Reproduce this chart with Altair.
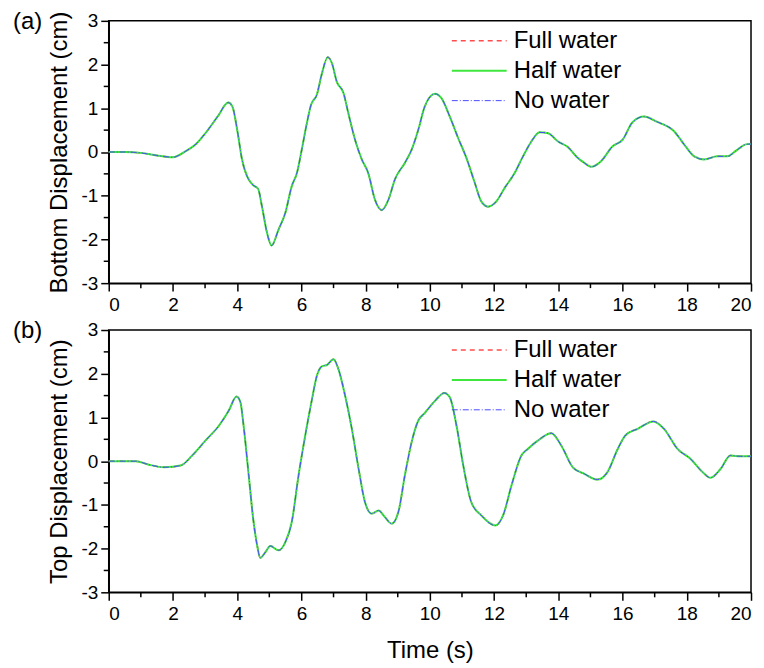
import altair as alt
import pandas as pd

# ---------------- data ----------------
series_names = ["Full water", "Half water", "No water"]

bottom_t = [0, 0.5, 1.0, 1.5, 2.0, 2.4, 2.7, 3.0, 3.4, 3.72, 3.85, 4.0, 4.15, 4.31,
            4.5, 4.65, 4.77, 4.93, 5.07, 5.29, 5.5, 5.7, 5.86, 6.01, 6.17, 6.3, 6.48,
            6.64, 6.82, 6.95, 7.1, 7.31, 7.46, 7.67, 7.88, 8.08, 8.29, 8.5, 8.71, 8.91,
            9.22, 9.43, 9.64, 9.84, 10.16, 10.36, 10.62, 10.88, 11.14, 11.4, 11.6, 11.81,
            12.07, 12.33, 12.64, 12.9, 13.16, 13.42, 13.68, 13.99, 14.3, 14.61, 14.81,
            15.02, 15.33, 15.69, 16.0, 16.31, 16.67, 17.04, 17.61, 17.92, 18.23, 18.54,
            18.95, 19.26, 19.57, 19.88, 20.0]
bottom_full = [0, 0, -0.02, -0.08, -0.12, 0.02, 0.17, 0.42, 0.82, 1.13, 1.04, 0.51, -0.17,
               -0.56, -0.76, -0.84, -1.24, -1.85, -2.14, -1.77, -1.39, -0.78, -0.48, 0.05,
               0.66, 1.08, 1.31, 1.8, 2.17, 2.03, 1.61, 1.35, 0.89, 0.28, -0.17, -0.48,
               -1.09, -1.33, -1.09, -0.63, -0.25, 0.05, 0.51, 1.04, 1.33, 1.23, 0.81, 0.32,
               -0.14, -0.71, -1.13, -1.25, -1.13, -0.82, -0.48, -0.1, 0.24, 0.45, 0.43,
               0.24, 0.11, -0.14, -0.25, -0.34, -0.21, 0.13, 0.28, 0.68, 0.81, 0.7, 0.47,
               0.17, -0.1, -0.17, -0.1, -0.1, 0.05, 0.18, 0.18]
bottom_half = list(bottom_full)
bottom_none = list(bottom_full)

top_t = [0, 0.84, 1.25, 1.72, 2.24, 2.6, 3.01, 3.43, 3.74, 3.98, 4.1, 4.2, 4.36, 4.51,
         4.62, 4.72, 4.88, 5.03, 5.29, 5.5, 5.7, 5.91, 6.12, 6.33, 6.48, 6.64, 6.79, 7.0,
         7.15, 7.36, 7.57, 7.78, 7.98, 8.19, 8.4, 8.6, 8.81, 9.02, 9.22, 9.43, 9.64, 9.84,
         10.16, 10.45, 10.62, 10.83, 11.04, 11.29, 11.6, 12.04, 12.28, 12.54, 12.85,
         13.05, 13.36, 13.78, 14.09, 14.45, 14.81, 15.22, 15.53, 15.85, 16.1, 16.47,
         16.96, 17.29, 17.71, 18.12, 18.49, 18.74, 19.05, 19.36, 19.67, 20.0]
top_full = [0, 0, -0.08, -0.14, -0.1, 0.13, 0.47, 0.81, 1.16, 1.48, 1.35, 0.81, -0.33,
            -1.39, -1.92, -2.21, -2.08, -1.94, -2.04, -1.85, -1.39, -0.33, 0.59, 1.42,
            1.95, 2.17, 2.2, 2.33, 2.11, 1.5, 0.74, -0.17, -0.94, -1.2, -1.13, -1.28,
            -1.43, -1.16, -0.33, 0.43, 0.93, 1.1, 1.38, 1.56, 1.46, 0.81, -0.1, -0.94,
            -1.24, -1.47, -1.24, -0.56, 0.13, 0.28, 0.47, 0.64, 0.36, -0.14, -0.29, -0.42,
            -0.25, 0.28, 0.6, 0.74, 0.91, 0.74, 0.28, 0.05, -0.25, -0.38, -0.18, 0.13,
            0.11, 0.11]
top_half = list(top_full)
top_none = list(top_full)

x_ticks = list(range(0, 21, 2))
x_minor = list(range(1, 20, 2))
y_ticks = [-3, -2, -1, 0, 1, 2, 3]
y_minor = [-2.5, -1.5, -0.5, 0.5, 1.5, 2.5]

# ---------------- styling ----------------
FONT = "Liberation Sans"
W, H = 644, 263
styles = [
    dict(color="#ff4d4d", strokeDash=[5, 4], strokeWidth=1.5),
    dict(color="#3ee63e", strokeWidth=2),
    dict(color="#4a4aff", strokeDash=[6, 2, 1, 2], strokeWidth=1),
]
hyphen_labels = "datum.value < 0 ? '-' + abs(datum.value) : '' + datum.value"

xscale = alt.Scale(domain=[0, 20], nice=False, zero=False)
yscale = alt.Scale(domain=[-3, 3], nice=False, zero=False)


def panel(t, full, half, none, ytitle, tag, xtitle):
    df = pd.DataFrame({"t": t, "Full water": full, "Half water": half, "No water": none})
    xaxis = alt.Axis(values=x_ticks, title=xtitle, labelPadding=4, titlePadding=15)
    yaxis = alt.Axis(values=y_ticks, title=ytitle, labelPadding=3, titlePadding=9,
                     labelExpr=hyphen_labels)
    layers = []
    for i, name in enumerate(series_names):
        layers.append(
            alt.Chart(df).mark_line(interpolate="monotone", **styles[i]).encode(
                x=alt.X("t:Q", scale=xscale, axis=xaxis, title=xtitle),
                y=alt.Y(f"{name}:Q", scale=yscale, axis=yaxis, title=ytitle),
            )
        )
    # minor ticks
    layers.append(
        alt.Chart(pd.DataFrame({"v": y_minor})).mark_rule(color="black", strokeWidth=1.5).encode(
            y=alt.Y("v:Q", scale=yscale, axis=yaxis, title=ytitle),
            x=alt.value(-5), x2=alt.value(0)
        )
    )
    layers.append(
        alt.Chart(pd.DataFrame({"v": x_minor})).mark_rule(color="black", strokeWidth=1.5).encode(
            x=alt.X("v:Q", scale=xscale, axis=xaxis, title=xtitle),
            y=alt.value(H), y2=alt.value(H + 5)
        )
    )
    # legend
    for i, name in enumerate(series_names):
        ld = pd.DataFrame({"label": [name]})
        yy = 20 + 30 * i
        layers.append(
            alt.Chart(ld).mark_rule(**styles[i]).encode(
                x=alt.value(344), x2=alt.value(399), y=alt.value(yy)
            )
        )
        layers.append(
            alt.Chart(ld).mark_text(align="left", baseline="middle", font=FONT, fontSize=24,
                                    color="black").encode(
                text="label:N", x=alt.value(406), y=alt.value(yy)
            )
        )
    # panel tag
    layers.append(
        alt.Chart(pd.DataFrame({"tag": [tag]})).mark_text(
            align="left", baseline="middle", font=FONT, fontSize=24, color="black"
        ).encode(text="tag:N", x=alt.value(-96), y=alt.value(1))
    )
    return alt.layer(*layers).properties(width=W, height=H)


pa = panel(bottom_t, bottom_full, bottom_half, bottom_none, "Bottom Displacement (cm)", "(a)", None)
pb = panel(top_t, top_full, top_half, top_none, "Top Displacement (cm)", "(b)", "Time (s)")

chart = (
    alt.vconcat(pa, pb, spacing=3)
    .properties(padding={"left": 4, "top": 0, "right": 0, "bottom": 0})
    .configure(background="white")
    .configure_view(stroke="black", strokeWidth=1.5)
    .configure_axis(
        labelFont=FONT, titleFont=FONT, labelFontSize=19, titleFontSize=24,
        titleFontWeight="normal", labelColor="black", titleColor="black",
        domainColor="black", domainWidth=1.5, tickColor="black", tickWidth=1.5,
        tickSize=8, grid=False,
    )
)

chart.save("out.html", embed_options={"renderer": "svg", "actions": False})
